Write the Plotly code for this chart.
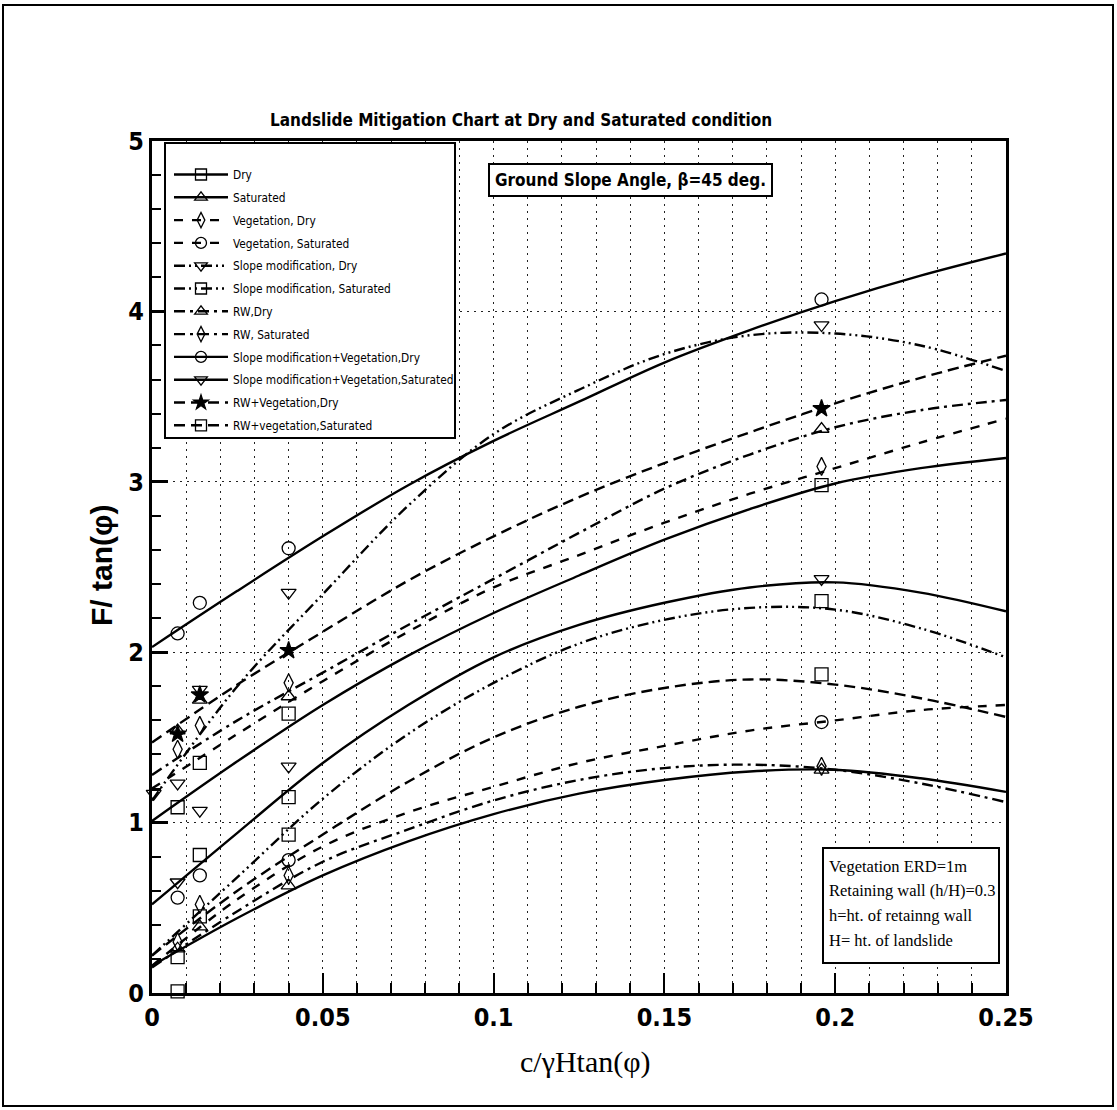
import plotly.graph_objects as go

# ---- fitted curves: F/tan(phi) sampled along c/(gamma H tan(phi)) ----
x_fit = [0.0, 0.025, 0.05, 0.075, 0.1, 0.125, 0.15, 0.175, 0.2, 0.225, 0.25]

dry = [1.01, 1.36, 1.69, 1.98, 2.23, 2.45, 2.66, 2.84, 2.99, 3.08, 3.14]
saturated = [0.16, 0.44, 0.69, 0.89, 1.05, 1.17, 1.25, 1.30, 1.31, 1.26, 1.18]
veg_dry = [1.20, 1.52, 1.83, 2.12, 2.38, 2.57, 2.76, 2.93, 3.08, 3.23, 3.37]
veg_sat = [0.16, 0.55, 0.86, 1.06, 1.21, 1.35, 1.45, 1.54, 1.60, 1.66, 1.69]
sm_dry = [1.13, 1.80, 2.34, 2.86, 3.28, 3.54, 3.75, 3.86, 3.87, 3.80, 3.65]
sm_sat = [0.22, 0.68, 1.14, 1.52, 1.82, 2.05, 2.19, 2.26, 2.25, 2.14, 1.97]
rw_dry = [1.28, 1.60, 1.88, 2.16, 2.43, 2.70, 2.96, 3.16, 3.32, 3.42, 3.48]
rw_sat = [0.15, 0.48, 0.77, 0.96, 1.13, 1.25, 1.32, 1.34, 1.31, 1.23, 1.12]
smv_dry = [2.03, 2.36, 2.68, 2.98, 3.24, 3.47, 3.70, 3.89, 4.06, 4.21, 4.34]
smv_sat = [0.52, 0.94, 1.35, 1.69, 1.97, 2.16, 2.29, 2.38, 2.41, 2.35, 2.24]
rwv_dry = [1.47, 1.81, 2.12, 2.42, 2.68, 2.91, 3.11, 3.29, 3.46, 3.61, 3.74]
rwv_sat = [0.22, 0.60, 0.93, 1.24, 1.50, 1.68, 1.79, 1.84, 1.81, 1.73, 1.62]

# ---- computed points ----
x_pts = [0.0075, 0.014, 0.04, 0.196]
x_pts_sm_dry = [0.0005, 0.0075, 0.014, 0.04, 0.196]

dry_pts = [1.09, 1.35, 1.64, 2.98]
saturated_pts = [0.26, 0.39, 0.63, 1.31]
veg_dry_pts = [1.43, 1.57, 1.82, 3.09]
veg_sat_pts = [0.56, 0.69, 0.78, 1.59]
sm_dry_pts = [1.17, 1.23, 1.78, 2.35, 3.92]
sm_sat_pts = [0.21, 0.81, 1.15, 2.30]
rw_dry_pts = [1.54, 1.72, 1.74, 3.31]
rw_sat_pts = [0.30, 0.52, 0.69, 1.33]
smv_dry_pts = [2.11, 2.29, 2.61, 4.07]
smv_sat_pts = [0.65, 1.07, 1.33, 2.43]
rwv_dry_pts = [1.52, 1.75, 2.01, 3.43]
rwv_sat_pts = [0.01, 0.45, 0.93, 1.87]

x_tick_vals = [0, 0.05, 0.1, 0.15, 0.2, 0.25]
x_tick_text = ["0", "0.05", "0.1", "0.15", "0.2", "0.25"]
y_tick_vals = [0, 1, 2, 3, 4, 5]
y_tick_text = ["0", "1", "2", "3", "4", "5"]

note_lines = ["Vegetation ERD=1m", "Retaining wall (h/H)=0.3",
              "h=ht. of retainng wall", "H= ht. of landslide"]

# ---- page geometry ----
W, H = 1117, 1110
ML, MR, MT, MB = 152, 111, 141, 117
PW, PH = W - ML - MR, H - MT - MB


def px(xp):
    return (xp - ML) / PW


def py(yp):
    return (H - MB - yp) / PH


NARROW = "Liberation Sans Narrow, Arial Narrow, DejaVu Sans Condensed, sans-serif"
SERIF = "Liberation Serif, Times New Roman, serif"
SANS = "Liberation Sans, Arial, sans-serif"

DASH_VEG = "9px,9px"
DASH_RWV = "11px,6px"
DASH_RW = "11px,5px,3px,5px"
DASH_SM = "11px,4px,2px,4px,2px,4px"

series = [
    ("Dry", dry, x_pts, dry_pts, "solid", "square-open"),
    ("Saturated", saturated, x_pts, saturated_pts, "solid", "triangle-up-open"),
    ("Vegetation, Dry", veg_dry, x_pts, veg_dry_pts, DASH_VEG, "diamond-tall-open"),
    ("Vegetation, Saturated", veg_sat, x_pts, veg_sat_pts, DASH_VEG, "circle-open"),
    ("Slope modification, Dry", sm_dry, x_pts_sm_dry, sm_dry_pts, DASH_SM, "triangle-down-open"),
    ("Slope modification, Saturated", sm_sat, x_pts, sm_sat_pts, DASH_SM, "square-open"),
    ("RW,Dry", rw_dry, x_pts, rw_dry_pts, DASH_RW, "triangle-up-open"),
    ("RW, Saturated", rw_sat, x_pts, rw_sat_pts, DASH_RW, "diamond-tall-open"),
    ("Slope modification+Vegetation,Dry", smv_dry, x_pts, smv_dry_pts, "solid", "circle-open"),
    ("Slope modification+Vegetation,Saturated", smv_sat, x_pts, smv_sat_pts, "solid", "triangle-down-open"),
    ("RW+Vegetation,Dry", rwv_dry, x_pts, rwv_dry_pts, DASH_RWV, "star"),
    ("RW+vegetation,Saturated", rwv_sat, x_pts, rwv_sat_pts, DASH_RWV, "square-open"),
]

fig = go.Figure()
LW = 2.4
for i, (name, curve, mx, my, dash, sym) in enumerate(series):
    grp = "g%d" % i
    fig.add_trace(go.Scatter(
        x=x_fit, y=curve, mode="lines", showlegend=False, hoverinfo="skip",
        legendgroup=grp,
        line=dict(color="black", width=LW, dash=dash, shape="spline", smoothing=1.0),
    ))
    fig.add_trace(go.Scatter(
        x=mx, y=my, mode="markers", showlegend=False, cliponaxis=False,
        legendgroup=grp,
        marker=dict(symbol=sym, size=13, color="black", line=dict(color="black", width=1.3)),
    ))
    # legend sample: line with its point symbol
    fig.add_trace(go.Scatter(
        x=[None], y=[None], mode="lines+markers", name=name, legendgroup=grp,
        line=dict(color="black", width=LW, dash=dash),
        marker=dict(symbol=sym, size=11, color="black", line=dict(color="black", width=1.3)),
    ))

fig.update_layout(
    width=W, height=H,
    margin=dict(l=ML, r=MR, t=MT, b=MB, pad=0),
    paper_bgcolor="white", plot_bgcolor="white",
    showlegend=True,
    legend=dict(
        x=px(169), y=py(160), xanchor="left", yanchor="top",
        bgcolor="rgba(0,0,0,0)", borderwidth=0,
        font=dict(family=NARROW, size=11.8, color="black"),
        itemwidth=54, tracegroupgap=3.8, traceorder="grouped",
    ),
    xaxis=dict(
        range=[0, 0.25], tickvals=x_tick_vals, ticktext=x_tick_text,
        ticks="inside", ticklen=20, tickwidth=2, tickcolor="black",
        showline=True, linewidth=3, linecolor="black", mirror=True,
        showgrid=True, gridcolor="#222", gridwidth=1.3, griddash="2px,5px",
        zeroline=False,
        tickfont=dict(family=NARROW, size=25, color="black", weight="bold"),
        minor=dict(dtick=0.01, ticks="inside", ticklen=10, tickwidth=1.5, tickcolor="black",
                   showgrid=True, gridcolor="#222", gridwidth=1.3, griddash="2px,5px"),
    ),
    yaxis=dict(
        range=[0, 5], tickvals=y_tick_vals, ticktext=y_tick_text,
        ticks="inside", ticklen=16, tickwidth=3, tickcolor="black",
        showline=True, linewidth=3, linecolor="black", mirror=True,
        showgrid=True, gridcolor="#222", gridwidth=1.3, griddash="2px,5px",
        zeroline=False,
        tickfont=dict(family=NARROW, size=25, color="black", weight="bold"),
        minor=dict(dtick=0.2, ticks="inside", ticklen=9, tickwidth=1.5, tickcolor="black",
                   showgrid=False),
    ),
)

# legend frame, note frame and outer page frame
fig.add_shape(type="rect", xref="paper", yref="paper",
              x0=px(165), x1=px(455), y0=py(438), y1=py(143),
              fillcolor="white", line=dict(color="black", width=2), layer="above")
fig.add_shape(type="rect", xref="paper", yref="paper",
              x0=px(823), x1=px(999), y0=py(963), y1=py(848),
              fillcolor="white", line=dict(color="black", width=2), layer="above")
fig.add_shape(type="rect", xref="paper", yref="paper",
              x0=px(3), x1=px(1113), y0=py(1106), y1=py(5),
              fillcolor="rgba(0,0,0,0)", line=dict(color="black", width=2), layer="above")

# titles
fig.add_annotation(x=px(521), y=py(120), xref="paper", yref="paper", showarrow=False,
                   xanchor="center", yanchor="middle",
                   text="<b>Landslide Mitigation Chart at Dry and Saturated condition</b>",
                   font=dict(family=NARROW, size=17, color="black"))
fig.add_annotation(x=px(585), y=py(1062), xref="paper", yref="paper", showarrow=False,
                   xanchor="center", yanchor="middle",
                   text="c/γHtan(φ)", font=dict(family=SERIF, size=30, color="black"))
fig.add_annotation(x=px(101), y=py(566), xref="paper", yref="paper", showarrow=False,
                   xanchor="center", yanchor="middle",
                   text="<b>F/ tan(φ)</b>", textangle=-90,
                   font=dict(family=SANS, size=30, color="black"))

# in-plot notes
fig.add_annotation(x=px(630), y=py(180), xref="paper", yref="paper", showarrow=False,
                   xanchor="center", yanchor="middle",
                   text="<b>Ground Slope Angle, β=45 deg.</b>",
                   font=dict(family=NARROW, size=17, color="black"),
                   bgcolor="white", bordercolor="black", borderwidth=2, borderpad=5)
for k, line in enumerate(note_lines):
    fig.add_annotation(x=px(827), y=py(866 + 24.7 * k), xref="paper", yref="paper",
                       showarrow=False, xanchor="left", yanchor="middle", align="left",
                       text=line, font=dict(family=SERIF, size=16.5, color="black"))

fig.write_html("out.html")
